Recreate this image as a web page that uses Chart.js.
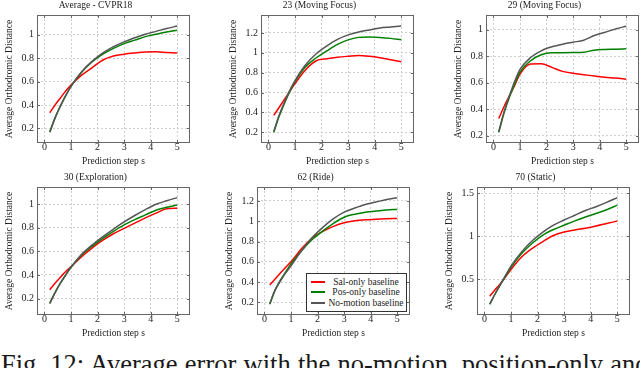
<!DOCTYPE html>
<html>
<head>
<meta charset="utf-8">
<script src="https://cdn.jsdelivr.net/npm/chart.js@4.4.1/dist/chart.umd.min.js"></script>
<style>
html, body { margin: 0; padding: 0; background: #fff; width: 640px; height: 368px; overflow: hidden; position: relative; }
canvas { position: absolute; }
#legend { position: absolute; left: 306px; top: 273px; width: 99px; height: 37px; border: 1px solid #333; background: #fff; font: 9.5px 'Liberation Serif', serif; color: #222; }
#legend .row { position: absolute; left: 0; right: 0; height: 10px; }
#legend .swatch { position: absolute; left: 4px; top: 4px; width: 14px; height: 2px; }
#legend .lbl { position: absolute; left: 19px; right: 0; top: -1px; text-align: center; line-height: 12px; white-space: nowrap; }
#caption { position: absolute; left: 1px; top: 351px; font-family: 'Liberation Serif', serif; font-size: 26.5px; line-height: 26px; word-spacing: 0.6px; white-space: nowrap; color: #1a1a1a; }
</style>
</head>
<body>
<div id="caption">Fig. 12: Average error with the no-motion, position-only and</div>
<script>
// prediction steps (seconds)
const steps = [0.2, 0.4, 0.6, 0.8, 1.0, 1.4, 1.8, 2.2, 2.6, 3.0, 3.4, 3.8, 4.2, 4.6, 5.0]
const xTicks = [0, 1, 2, 3, 4, 5]
const seriesNames = ['Sal-only baseline', 'Pos-only baseline', 'No-motion baseline']
const seriesColors = ['#ff0000', '#008000', '#555555']
const titles = ['Average - CVPR18', '23 (Moving Focus)', '29 (Moving Focus)', '30 (Exploration)', '62 (Ride)', '70 (Static)']

// Average - CVPR18
const cvprSal  = [0.334, 0.40, 0.46, 0.52, 0.57, 0.655, 0.72, 0.785, 0.82, 0.835, 0.845, 0.853, 0.855, 0.85, 0.845]
const cvprPos  = [0.17, 0.29, 0.39, 0.48, 0.56, 0.68, 0.77, 0.835, 0.885, 0.925, 0.955, 0.985, 1.005, 1.025, 1.04]
const cvprNomo = [0.166, 0.29, 0.39, 0.48, 0.56, 0.685, 0.775, 0.845, 0.90, 0.94, 0.975, 1.005, 1.03, 1.055, 1.075]
// 23 (Moving Focus)
const v23Sal  = [0.37, 0.45, 0.53, 0.61, 0.69, 0.83, 0.92, 0.94, 0.955, 0.965, 0.973, 0.965, 0.95, 0.93, 0.91]
const v23Pos  = [0.20, 0.36, 0.49, 0.61, 0.71, 0.86, 0.95, 1.02, 1.085, 1.13, 1.155, 1.16, 1.155, 1.145, 1.13]
const v23Nomo = [0.21, 0.37, 0.50, 0.62, 0.72, 0.88, 0.99, 1.07, 1.135, 1.18, 1.21, 1.23, 1.25, 1.26, 1.27]
// 29 (Moving Focus)
const v29Sal  = [0.33, 0.42, 0.50, 0.58, 0.665, 0.74, 0.742, 0.715, 0.685, 0.67, 0.66, 0.65, 0.64, 0.635, 0.625]
const v29Pos  = [0.225, 0.37, 0.49, 0.59, 0.68, 0.765, 0.81, 0.825, 0.826, 0.827, 0.83, 0.845, 0.85, 0.852, 0.855]
const v29Nomo = [0.23, 0.38, 0.50, 0.61, 0.70, 0.79, 0.84, 0.87, 0.89, 0.905, 0.92, 0.955, 0.98, 1.005, 1.025]
// 30 (Exploration)
const v30Sal  = [0.275, 0.33, 0.38, 0.43, 0.47, 0.555, 0.63, 0.695, 0.75, 0.795, 0.84, 0.885, 0.925, 0.962, 0.966]
const v30Pos  = [0.16, 0.25, 0.33, 0.40, 0.465, 0.57, 0.645, 0.71, 0.77, 0.825, 0.87, 0.91, 0.95, 0.975, 0.995]
const v30Nomo = [0.157, 0.25, 0.33, 0.40, 0.465, 0.575, 0.655, 0.725, 0.79, 0.85, 0.905, 0.955, 1.0, 1.03, 1.057]
// 62 (Ride)
const v62Sal  = [0.37, 0.43, 0.49, 0.545, 0.60, 0.73, 0.835, 0.90, 0.95, 0.985, 1.005, 1.015, 1.02, 1.025, 1.027]
const v62Pos  = [0.18, 0.32, 0.42, 0.50, 0.58, 0.71, 0.82, 0.905, 0.98, 1.04, 1.07, 1.09, 1.10, 1.11, 1.117]
const v62Nomo = [0.187, 0.32, 0.41, 0.49, 0.56, 0.71, 0.84, 0.94, 1.025, 1.09, 1.13, 1.165, 1.19, 1.215, 1.233]
// 70 (Static)
const v70Sal  = [0.304, 0.38, 0.45, 0.53, 0.615, 0.76, 0.86, 0.94, 1.01, 1.05, 1.075, 1.095, 1.12, 1.15, 1.178]
const v70Pos  = [0.21, 0.33, 0.44, 0.54, 0.64, 0.80, 0.92, 1.015, 1.08, 1.13, 1.18, 1.225, 1.265, 1.31, 1.363]
const v70Nomo = [0.214, 0.33, 0.44, 0.55, 0.655, 0.82, 0.95, 1.05, 1.13, 1.19, 1.245, 1.30, 1.345, 1.395, 1.45]

const yTicksA = [0.2, 0.4, 0.6, 0.8, 1]
const yTicksB = [0.2, 0.4, 0.6, 0.8, 1, 1.2]
const yTicksC = [0.5, 1, 1.5]

const FONT = "'Liberation Serif', 'Times New Roman', serif"
const TEXT = '#222'
const FRAME = '#666'
Chart.defaults.font.family = FONT

// panel placement: left/top of the plot frame on the page
const panels = [
	{ title: titles[0], series: [cvprSal, cvprPos, cvprNomo], yTicks: yTicksA, yMin: 0.075, yMax: 1.17, left: 37, top: 15 },
	{ title: titles[1], series: [v23Sal, v23Pos, v23Nomo], yTicks: yTicksB, yMin: 0.093, yMax: 1.38, left: 261, top: 15 },
	{ title: titles[2], series: [v29Sal, v29Pos, v29Nomo], yTicks: yTicksA, yMin: 0.145, yMax: 1.11, left: 486, top: 15 },
	{ title: titles[3], series: [v30Sal, v30Pos, v30Nomo], yTicks: yTicksA, yMin: 0.06, yMax: 1.147, left: 37, top: 187 },
	{ title: titles[4], series: [v62Sal, v62Pos, v62Nomo], yTicks: yTicksB, yMin: 0.075, yMax: 1.338, left: 257, top: 187 },
	{ title: titles[5], series: [v70Sal, v70Pos, v70Nomo], yTicks: yTicksC, yMin: 0.086, yMax: 1.574, left: 477, top: 187 },
]

// box around the plot area + small inner tick marks (pgfplots look)
const framePlugin = {
	id: 'frame',
	afterDraw(chart) {
		const { ctx, chartArea: a, scales } = chart
		ctx.save()
		ctx.strokeStyle = FRAME
		ctx.lineWidth = 1
		ctx.strokeRect(a.left + 0.5, a.top + 0.5, a.right - a.left - 1, a.bottom - a.top - 1)
		ctx.beginPath()
		scales.x.ticks.forEach(t => {
			const px = Math.round(scales.x.getPixelForValue(t.value)) + 0.5
			ctx.moveTo(px, a.bottom); ctx.lineTo(px, a.bottom - 3)
			ctx.moveTo(px, a.top); ctx.lineTo(px, a.top + 3)
		})
		scales.y.ticks.forEach(t => {
			const py = Math.round(scales.y.getPixelForValue(t.value)) + 0.5
			ctx.moveTo(a.left, py); ctx.lineTo(a.left + 3, py)
			ctx.moveTo(a.right, py); ctx.lineTo(a.right - 3, py)
		})
		ctx.stroke()
		ctx.restore()
	}
}

const gridOpts = { color: '#cfcfcf', lineWidth: 1, drawTicks: false }
const borderOpts = { display: false, dash: [2, 2] }
const tickFont = { family: FONT, size: 10, lineHeight: '9px' }
const titleFont = { family: FONT, size: 9.5, lineHeight: '10px' }

function makeChart(p) {
	const canvas = document.createElement('canvas')
	canvas.width = 193
	canvas.height = 168
	canvas.style.left = (p.left - 36) + 'px'
	canvas.style.top = (p.top - 15) + 'px'
	document.body.appendChild(canvas)
	return new Chart(canvas, {
		type: 'line',
		data: {
			datasets: p.series.map((vals, k) => ({
				label: seriesNames[k],
				data: steps.map((s, j) => ({ x: s, y: vals[j] })),
				borderColor: seriesColors[k],
				borderWidth: 1.5,
				pointRadius: 0,
				cubicInterpolationMode: 'monotone',
				fill: false,
				order: 3 - k // no-motion on top
			}))
		},
		options: {
			responsive: false,
			animation: false,
			layout: { padding: { top: 0, right: 4, bottom: 0, left: 0 } },
			plugins: {
				legend: { display: false },
				tooltip: { enabled: false },
				title: {
					display: true, text: p.title, color: TEXT,
					font: { family: FONT, size: 9.5, weight: 'normal', lineHeight: '10px' },
					padding: { top: 0, bottom: 5 }
				}
			},
			scales: {
				x: {
					type: 'linear', min: -0.28, max: 5.48,
					afterBuildTicks: s => { s.ticks = xTicks.map(v => ({ value: v })) },
					afterFit: s => { s.height = 25 },
					grid: gridOpts, border: borderOpts,
					ticks: { color: TEXT, font: tickFont, padding: 0, maxRotation: 0, callback: v => String(v) },
					title: { display: true, text: 'Prediction step s', color: TEXT, font: titleFont, padding: { top: 0, bottom: 2 } }
				},
				y: {
					type: 'linear', min: p.yMin, max: p.yMax,
					afterBuildTicks: s => { s.ticks = p.yTicks.map(v => ({ value: v })) },
					afterFit: s => { s.width = 36 },
					grid: gridOpts, border: borderOpts,
					ticks: { color: TEXT, font: tickFont, padding: 3, callback: v => String(Math.round(v * 100) / 100) },
					title: { display: true, text: 'Average Orthodromic Distance', color: TEXT, font: titleFont, padding: { top: 3, bottom: 0 } }
				}
			}
		},
		plugins: [framePlugin]
	})
}

panels.forEach(makeChart)

// legend box inside the "62 (Ride)" panel
const legend = document.createElement('div')
legend.id = 'legend'
seriesNames.forEach((name, k) => {
	const row = document.createElement('div')
	row.className = 'row'
	row.style.top = (3 + k * 10.3) + 'px'
	const sw = document.createElement('div')
	sw.className = 'swatch'
	sw.style.background = seriesColors[k]
	const lbl = document.createElement('span')
	lbl.className = 'lbl'
	lbl.innerText = name
	row.appendChild(sw)
	row.appendChild(lbl)
	legend.appendChild(row)
})
document.body.appendChild(legend)
</script>
</body>
</html>
